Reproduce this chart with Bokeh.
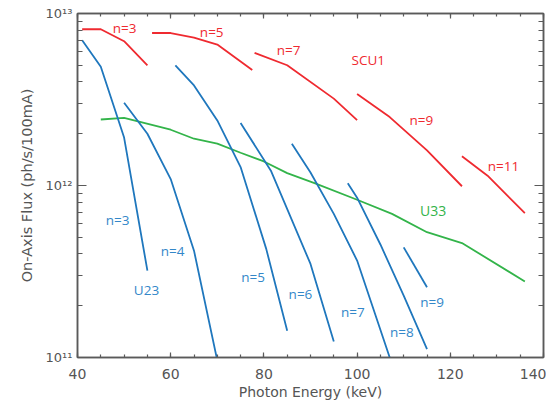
from bokeh.plotting import figure
from bokeh.models import (LinearAxis, LogAxis, SingleIntervalTicker, FixedTicker,
                          CustomJSTickFormatter)
from bokeh.core.properties import value
from bokeh.embed import file_html
from bokeh.resources import INLINE

# ---- data (photon energy keV, on-axis flux ph/s/100mA) ----
scu1_n3_e = [41, 45, 50, 55]
scu1_n3_f = [8.1e12, 8.1e12, 6.9e12, 5.0e12]
scu1_n5_e = [56, 60, 65, 70, 77.5]
scu1_n5_f = [7.7e12, 7.7e12, 7.25e12, 6.6e12, 4.7e12]
scu1_n7_e = [78, 85, 95, 100]
scu1_n7_f = [5.9e12, 5.0e12, 3.2e12, 2.4e12]
scu1_n9_e = [100, 107, 115, 122.5]
scu1_n9_f = [3.4e12, 2.5e12, 1.6e12, 0.99e12]
scu1_n11_e = [122.5, 128, 136]
scu1_n11_f = [1.48e12, 1.14e12, 0.69e12]

u33_e = [45, 50, 60, 65, 70, 75, 80, 85, 91, 100, 107.5, 115, 122.5, 136]
u33_f = [2.42e12, 2.47e12, 2.11e12, 1.87e12, 1.75e12, 1.55e12, 1.38e12,
         1.18e12, 1.03e12, 8.26e11, 6.84e11, 5.35e11, 4.63e11, 2.77e11]

u23_n3_e = [41, 45, 50, 55]
u23_n3_f = [7.0e12, 4.9e12, 1.9e12, 3.2e11]
u23_n4_e = [50, 55, 60, 65, 70]
u23_n4_f = [3.03e12, 2.0e12, 1.09e12, 4.18e11, 0.96e11]
u23_n5_e = [61, 65, 70, 75, 80.5, 85]
u23_n5_f = [5.0e12, 3.82e12, 2.39e12, 1.28e12, 4.28e11, 1.43e11]
u23_n6_e = [75, 81.5, 90, 95]
u23_n6_f = [2.31e12, 1.22e12, 3.5e11, 1.24e11]
u23_n7_e = [86, 90, 95, 100, 107]
u23_n7_f = [1.75e12, 1.19e12, 6.84e11, 3.66e11, 1.0e11]
u23_n8_e = [98, 100, 105, 110, 115]
u23_n8_f = [1.03e12, 8.5e11, 4.54e11, 2.29e11, 1.12e11]
u23_n9_e = [110, 115]
u23_n9_f = [4.37e11, 2.56e11]

# y tick values
y_major = [1e11, 1e12, 1e13]
y_minor = [m * 10.0 ** d for d in (11, 12) for m in range(2, 10)]

# labels
red_labels = ["n=3", "n=5", "n=7", "SCU1", "n=9", "n=11"]
red_lx = [50.1, 68.8, 85.3, 102.4, 113.8, 131.4]
red_ly = [8.24e12, 7.82e12, 6.11e12, 5.35e12, 2.415e12, 1.294e12]
green_labels = ["U33"]
green_lx = [116.3]
green_ly = [7.14e11]
blue_labels = ["n=3", "n=4", "U23", "n=5", "n=6", "n=7", "n=8", "n=9"]
blue_lx = [48.6, 60.4, 54.8, 77.7, 87.85, 99.1, 109.6, 116.1]
blue_ly = [6.34e11, 4.14e11, 2.47e11, 2.92e11, 2.34e11, 1.85e11, 1.40e11, 2.09e11]

RED = "#ef2a30"
GREEN = "#33b44a"
BLUE = "#1f77bd"
BLUE_T = "#3387c9"
AX = "#5a5a5a"
TXT = "#555555"

p = figure(width=546, height=402, x_range=(40, 140), y_range=(1e11, 1e13),
           y_axis_type="log", output_backend="svg", toolbar_location=None,
           min_border_left=77, min_border_right=3, min_border_top=13,
           min_border_bottom=45)
p.xgrid.grid_line_color = None
p.ygrid.grid_line_color = None
p.outline_line_color = AX
p.outline_line_width = 1.5
p.background_fill_color = "white"
p.border_fill_color = "white"

sup_code = """
const sup = {'0':'\u2070','1':'\u00b9','2':'\u00b2','3':'\u00b3','4':'\u2074',
             '5':'\u2075','6':'\u2076','7':'\u2077','8':'\u2078','9':'\u2079','-':'\u207b'};
const e = Math.round(Math.log10(tick));
return '10' + String(e).split('').map(c => sup[c]).join('');
"""

def style_axis(ax, major_in, minor_in, labels=True):
    ax.axis_line_color = AX
    ax.axis_line_width = 1.5
    ax.major_tick_line_color = AX
    ax.minor_tick_line_color = AX
    ax.major_tick_line_width = 1.2
    ax.minor_tick_line_width = 1.2
    ax.major_tick_in = major_in
    ax.major_tick_out = 0
    ax.minor_tick_in = minor_in
    ax.minor_tick_out = 0
    if not labels:
        ax.major_label_text_font_size = "0px"
        ax.major_label_text_alpha = 0
        ax.major_label_standoff = 0

xb = p.xaxis[0]
xb.ticker = SingleIntervalTicker(interval=20, num_minor_ticks=4)
style_axis(xb, 5, 3)
xb.major_label_text_font = "DejaVu Sans"
xb.major_label_text_font_size = "14px"
xb.major_label_text_color = TXT
xb.major_label_standoff = 11
xb.axis_label = "Photon Energy (keV)"
xb.axis_label_text_font = "DejaVu Sans"
xb.axis_label_text_font_size = "14px"
xb.axis_label_text_font_style = "normal"
xb.axis_label_text_color = TXT
xb.axis_label_standoff = 2

yl = p.yaxis[0]
yl.ticker = FixedTicker(ticks=y_major, minor_ticks=y_minor)
yl.formatter = CustomJSTickFormatter(code=sup_code)
style_axis(yl, 9, 5)
yl.major_label_text_font = "DejaVu Sans"
yl.major_label_text_font_size = "13px"
yl.major_label_text_color = TXT
yl.major_label_standoff = 5
yl.axis_label = "On-Axis Flux (ph/s/100mA)"
yl.axis_label_text_font = "DejaVu Sans"
yl.axis_label_text_font_size = "14.5px"
yl.axis_label_text_font_style = "normal"
yl.axis_label_text_color = TXT
yl.axis_label_standoff = 8

xt = LinearAxis(ticker=SingleIntervalTicker(interval=20, num_minor_ticks=4))
style_axis(xt, 5, 3, labels=False)
p.add_layout(xt, "above")
yr = LogAxis(ticker=FixedTicker(ticks=y_major, minor_ticks=y_minor))
style_axis(yr, 9, 5, labels=False)
p.add_layout(yr, "right")

LW = 1.8
for e, f in [(scu1_n3_e, scu1_n3_f), (scu1_n5_e, scu1_n5_f), (scu1_n7_e, scu1_n7_f),
             (scu1_n9_e, scu1_n9_f), (scu1_n11_e, scu1_n11_f)]:
    p.line(e, f, line_color=RED, line_width=LW)
p.line(u33_e, u33_f, line_color=GREEN, line_width=LW)
for e, f in [(u23_n3_e, u23_n3_f), (u23_n4_e, u23_n4_f), (u23_n5_e, u23_n5_f),
             (u23_n6_e, u23_n6_f), (u23_n7_e, u23_n7_f), (u23_n8_e, u23_n8_f),
             (u23_n9_e, u23_n9_f)]:
    p.line(e, f, line_color=BLUE, line_width=LW)

def labels(xs, ys, texts, color, size):
    p.text(x=xs, y=ys, text=texts, text_color=color, text_font=value("Open Sans"),
           text_font_size=size, text_align="center", text_baseline="middle")

labels(red_lx, red_ly, red_labels, RED, "13.5px")
labels(green_lx, green_ly, green_labels, GREEN, "14px")
labels(blue_lx, blue_ly, blue_labels, BLUE_T, "13.5px")

open("out.html", "w").write(file_html(p, INLINE))
